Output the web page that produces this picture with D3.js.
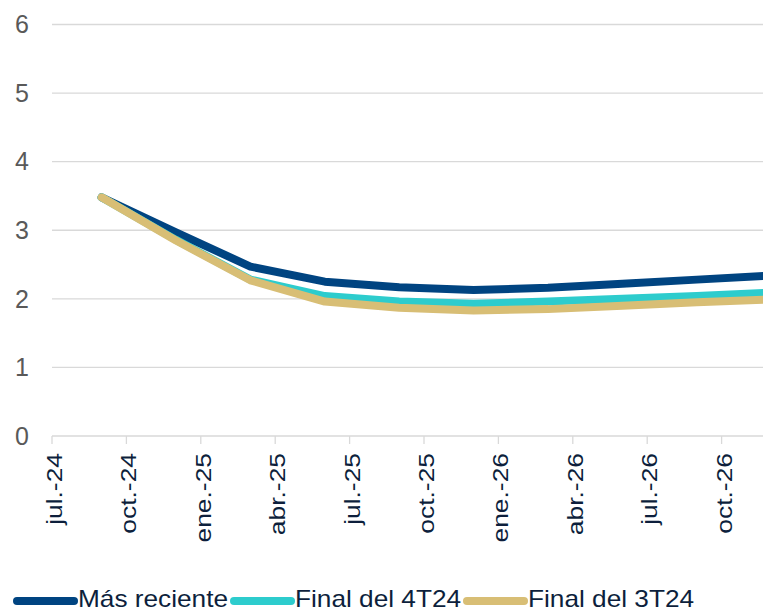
<!DOCTYPE html>
<html>
<head>
<meta charset="utf-8">
<script src="https://cdn.jsdelivr.net/npm/d3@7"></script>
<style>
body { margin: 0; background: #fff; }
svg { display: block; font-family: "Liberation Sans", Arial, sans-serif; }
</style>
</head>
<body>
<script>
// quarterly points, plotted at the last month of each quarter
var dates = ["2024-09", "2024-12", "2025-03", "2025-06", "2025-09", "2025-12", "2026-03", "2026-06", "2026-09", "2026-12"];
var masReciente = [3.48, 2.97, 2.47, 2.25, 2.17, 2.13, 2.16, 2.22, 2.28, 2.34];
var final4T24 = [3.48, 2.86, 2.28, 2.04, 1.96, 1.93, 1.96, 2.00, 2.04, 2.09];
var final3T24 = [3.48, 2.85, 2.27, 1.96, 1.87, 1.83, 1.85, 1.90, 1.95, 1.99];

var tickDates = ["2024-07", "2024-10", "2025-01", "2025-04", "2025-07", "2025-10", "2026-01", "2026-04", "2026-07", "2026-10"];
var tickLabels = ["jul.-24", "oct.-24", "ene.-25", "abr.-25", "jul.-25", "oct.-25", "ene.-26", "abr.-26", "jul.-26", "oct.-26"];
var yTicks = [0, 1, 2, 3, 4, 5, 6];

var seriesNames = ["Más reciente", "Final del 4T24", "Final del 3T24"];
var seriesColors = ["#004481", "#2dcccd", "#d8be75"];

var width = 763, height = 612;
var plotLeft = 52, plotTop = 24.5, plotBottom = 436;

// months since jul-24
function monthIndex(s) {
	var p = s.split("-");
	return (+p[0] - 2024) * 12 + (+p[1] - 7);
}

var x = d3.scaleLinear().domain([0, 29]).range([plotLeft, plotLeft + 29 * 24.8]);
var y = d3.scaleLinear().domain([0, 6]).range([plotBottom, plotTop]);

var svg = d3.select("body").append("svg")
	.attr("width", width)
	.attr("height", height);

// grid
svg.selectAll("line.grid")
	.data(yTicks)
	.enter()
	.append("line")
	.attr("class", "grid")
	.attr("x1", plotLeft)
	.attr("x2", width)
	.attr("y1", function(d){ return y(d); })
	.attr("y2", function(d){ return y(d); })
	.attr("stroke", "#d9d9d9")
	.attr("stroke-width", 1.3);

svg.selectAll("text.ylab")
	.data(yTicks)
	.enter()
	.append("text")
	.attr("class", "ylab")
	.attr("x", 29)
	.attr("y", function(d){ return y(d); })
	.attr("dy", "0.35em")
	.attr("text-anchor", "end")
	.attr("fill", "#595959")
	.style("font-size", "25px")
	.text(function(d){ return d; });

// x ticks
svg.selectAll("line.xtick")
	.data(tickDates)
	.enter()
	.append("line")
	.attr("class", "xtick")
	.attr("x1", function(d){ return x(monthIndex(d)); })
	.attr("x2", function(d){ return x(monthIndex(d)); })
	.attr("y1", plotBottom)
	.attr("y2", plotBottom + 8)
	.attr("stroke", "#d9d9d9")
	.attr("stroke-width", 1.3);

svg.selectAll("g.xlab")
	.data(tickDates)
	.enter()
	.append("g")
	.attr("class", "xlab")
	.attr("transform", function(d){ return "translate(" + x(monthIndex(d)) + ",453) rotate(-90) scale(1.2,1)"; })
	.append("text")
	.attr("y", 10)
	.attr("text-anchor", "end")
	.attr("fill", "#0d1f3c")
	.style("font-size", "22px")
	.text(function(d, i){ return tickLabels[i]; });

// lines
var line = d3.line()
	.x(function(d){ return x(monthIndex(d.date)); })
	.y(function(d){ return y(d.value); });

var allSeries = [masReciente, final4T24, final3T24];

allSeries.forEach(function(vals, i) {
	var pts = dates.map(function(d, j){ return {date: d, value: vals[j]}; });
	svg.append("path")
		.datum(pts)
		.attr("d", line)
		.attr("fill", "none")
		.attr("stroke", seriesColors[i])
		.attr("stroke-width", 8)
		.attr("stroke-linejoin", "round")
		.attr("stroke-linecap", "round");
});

// legend
var legendX = [17, 234, 467];
var legend = svg.selectAll("g.legend")
	.data(seriesNames)
	.enter()
	.append("g")
	.attr("class", "legend")
	.attr("transform", function(d, i){ return "translate(" + legendX[i] + ",601)"; });

legend.append("line")
	.attr("x1", 0)
	.attr("x2", 57)
	.attr("stroke", function(d, i){ return seriesColors[i]; })
	.attr("stroke-width", 8)
	.attr("stroke-linecap", "round");

legend.append("text")
	.attr("transform", "translate(61,6) scale(1.14,1)")
	.attr("fill", "#0d1f3c")
	.style("font-size", "23px")
	.text(function(d){ return d; });
</script>
</body>
</html>
